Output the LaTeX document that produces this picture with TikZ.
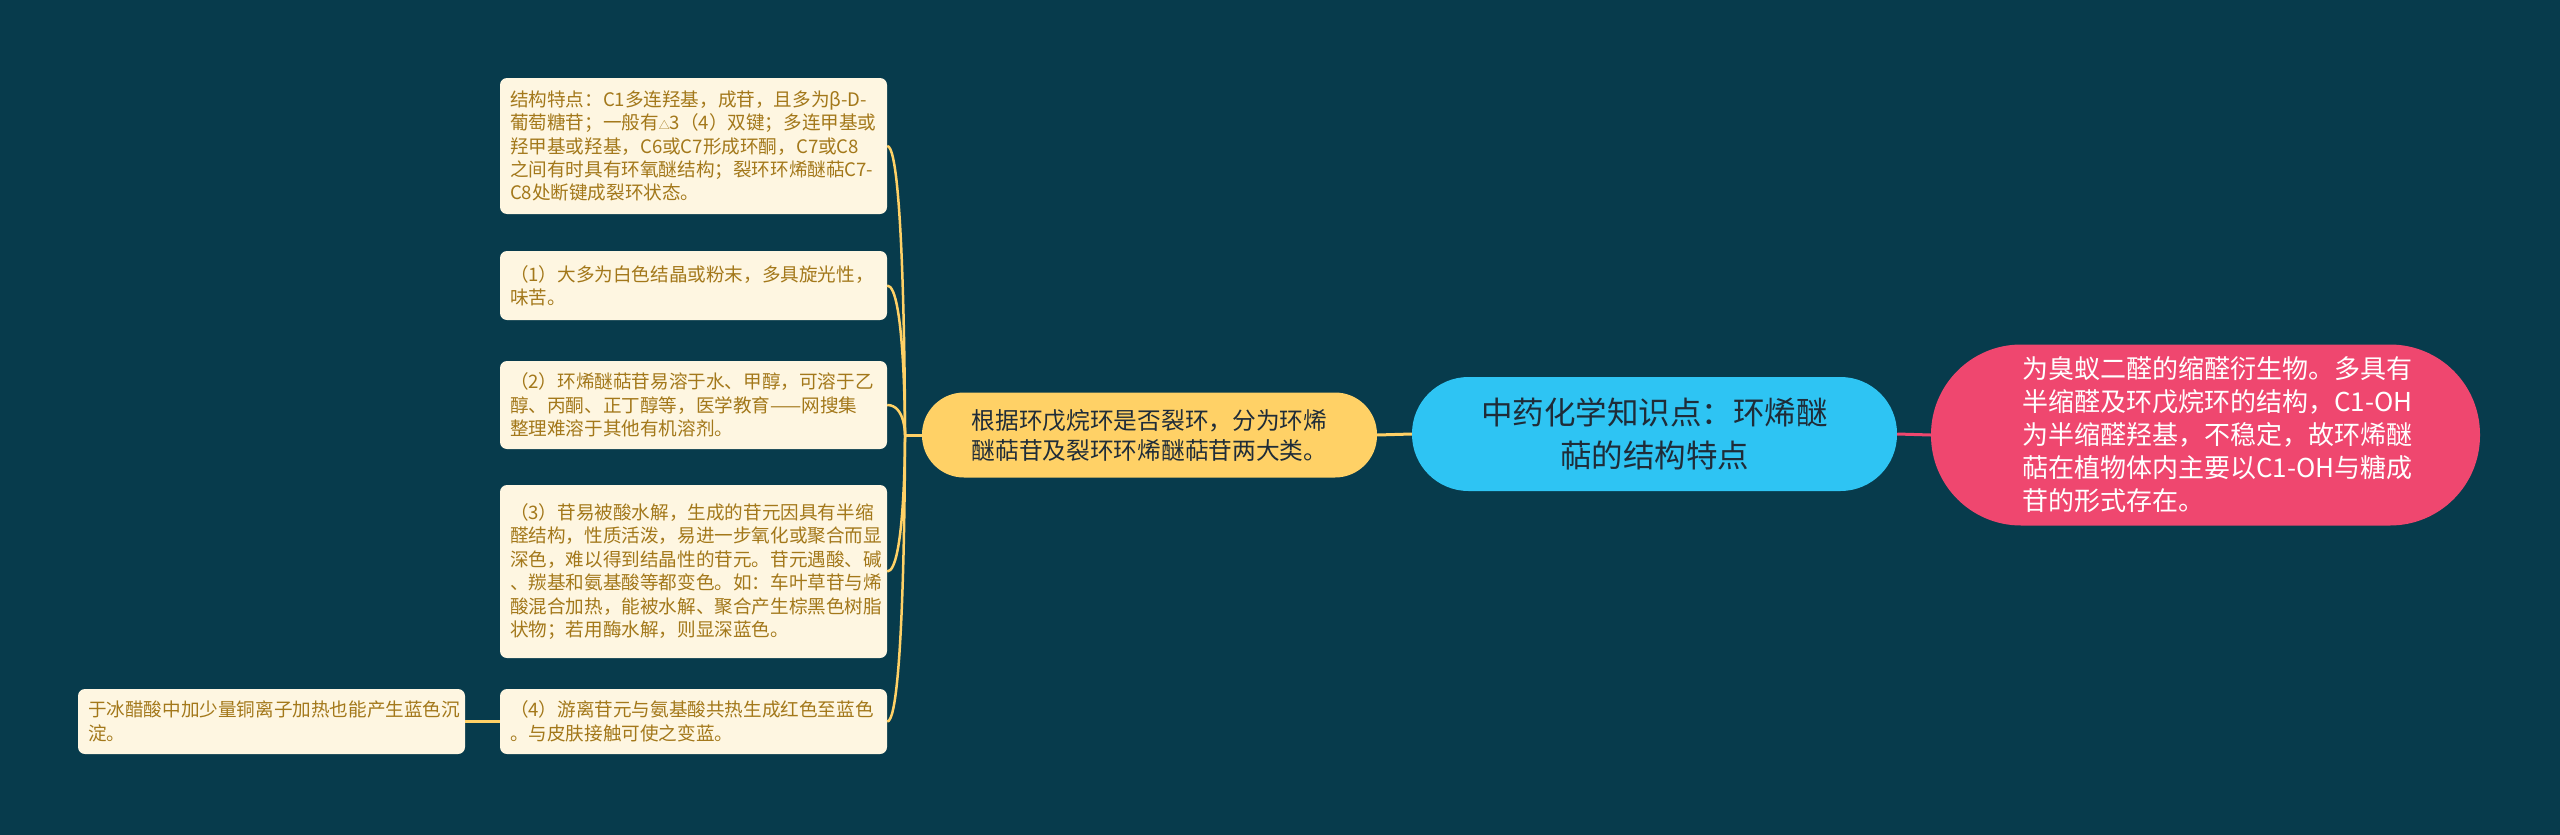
\documentclass[tikz,border=0pt]{standalone}
\usepackage{fontspec}
\setmainfont{Noto Sans CJK SC}
\definecolor{bg}{HTML}{073B4C}
\definecolor{cream}{HTML}{FEF6E1}
\definecolor{leaftext}{HTML}{A3781A}
\definecolor{gold}{HTML}{FFD166}
\definecolor{skyblue}{HTML}{2EC4F3}
\definecolor{rose}{HTML}{EF476F}
\definecolor{darktext}{HTML}{1F2C38}
\begin{document}
\begin{tikzpicture}[x=1pt,y=-1pt,
  leaf/.style={fill=cream, rounded corners=7, inner xsep=10, inner ysep=0,
    text width=367, minimum height=#1, text=leaftext, align=left,
    font=\fontsize{18.6}{23.4}\selectfont},
  goldline/.style={draw=gold, line width=3},
  roseline/.style={draw=rose, line width=3}]
\fill[bg] (0,0) rectangle (2560,835);
\useasboundingbox (0,0) rectangle (2560,835);

% central node
\node[fill=skyblue, rounded corners=56.5, minimum width=485, minimum height=114,
  inner sep=0, align=center, text=darktext, font=\fontsize{31.5}{43}\selectfont]
  (root) at (1654.5,434) {中药化学知识点：环烯醚\\萜的结构特点};

% right node
\node[fill=rose, rounded corners=90, minimum width=549, minimum height=181,
  inner sep=0, text width=367, align=left, text=white, font=\fontsize{26}{33}\selectfont]
  (r) at (2205.5,435) {\mbox{为臭蚁二醛的缩醛衍生物。多具有}\\\mbox{半缩醛及环戊烷环的结构，C1-OH}\\\mbox{为半缩醛羟基，不稳定，故环烯醚}\\\mbox{萜在植物体内主要以C1-OH与糖成}\\\mbox{苷的形式存在。}};

% yellow node
\node[fill=gold, rounded corners=42, minimum width=455, minimum height=85,
  inner sep=0, align=left, text=darktext, font=\fontsize{23.7}{30}\selectfont]
  (y) at (1149.5,435) {根据环戊烷环是否裂环，分为环烯\\醚萜苷及裂环环烯醚萜苷两大类。};

% leaves
\node[leaf=136] (b1) at (693.5,146) {结构特点：C1多连羟基，成苷，且多为β-D-\\葡萄糖苷；一般有{\fontsize{11}{11}\selectfont △}3（4）双键；多连甲基或\\羟甲基或羟基，C6或C7形成环酮，C7或C8\\之间有时具有环氧醚结构；裂环环烯醚萜C7-\\C8处断键成裂环状态。};
\node[leaf=69] (b2) at (693.5,285.5) {（1）大多为白色结晶或粉末，多具旋光性，\\味苦。};
\node[leaf=88] (b3) at (693.5,405) {（2）环烯醚萜苷易溶于水、甲醇，可溶于乙\\醇、丙酮、正丁醇等，医学教育——网搜集\\整理难溶于其他有机溶剂。};
\node[leaf=173] (b4) at (693.5,571.5) {（3）苷易被酸水解，生成的苷元因具有半缩\\醛结构，性质活泼，易进一步氧化或聚合而显\\深色，难以得到结晶性的苷元。苷元遇酸、碱\\、羰基和氨基酸等都变色。如：车叶草苷与烯\\酸混合加热，能被水解、聚合产生棕黑色树脂\\状物；若用酶水解，则显深蓝色。};
\node[leaf=65] (b5) at (693.5,721.5) {（4）游离苷元与氨基酸共热生成红色至蓝色\\。与皮肤接触可使之变蓝。};
\node[leaf=65] (b6) at (271.5,721.5) {于冰醋酸中加少量铜离子加热也能产生蓝色沉\\淀。};

% connectors
\draw[goldline] (root.west) -- (y.east);
\draw[roseline] (root.east) -- (r.west);
\coordinate (J) at (905,435);
\draw[goldline] (y.west) -- (J);
\foreach \b in {b1,b2,b3,b4,b5}{
  \draw[goldline, line width=2.5] (\b.east) .. controls ([xshift=18]\b.east) and (J) .. (J);
}
\draw[goldline] (b5.west) -- (b6.east);
\end{tikzpicture}
\end{document}
